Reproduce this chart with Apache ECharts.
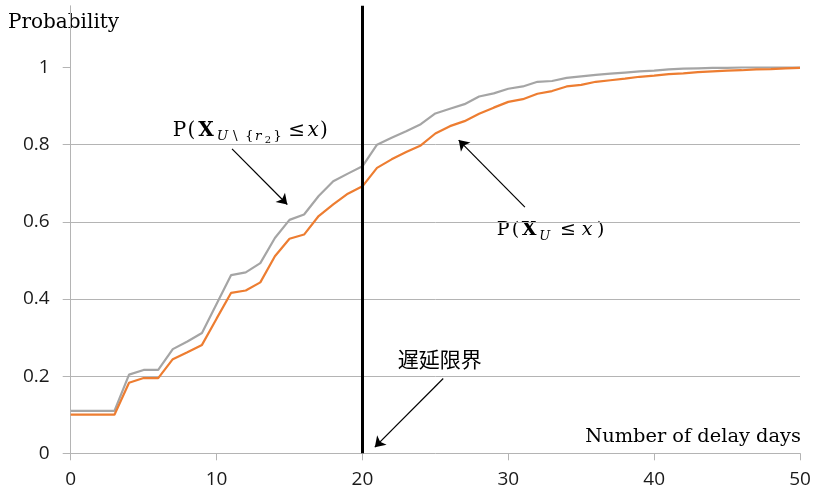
<!DOCTYPE html>
<html><head><meta charset="utf-8">
<script src="https://cdn.jsdelivr.net/npm/echarts@6/dist/echarts.min.js"></script>
<style>html,body{margin:0;padding:0;background:#fff}#c{width:815px;height:497px}</style>
</head><body><div id="c"></div>
<script>
// ---- data ----
const days = [0,1,2,3,4,5,6,7,8,9,10,11,12,13,14,15,16,17,18,19,20,21,22,23,24,25,26,27,28,29,30,31,32,33,34,35,36,37,38,39,40,41,42,43,44,45,46,47,48,49,50];
const probWithoutR2 = [0.11,0.11,0.11,0.11,0.204,0.216,0.216,0.27,0.29,0.312,0.387,0.462,0.469,0.493,0.558,0.605,0.619,0.667,0.705,0.725,0.744,0.80,0.818,0.835,0.853,0.881,0.893,0.905,0.925,0.933,0.945,0.951,0.963,0.965,0.973,0.977,0.981,0.984,0.987,0.99,0.992,0.995,0.997,0.998,0.999,0.999,1,1,1,1,1];
const probAll = [0.10,0.10,0.10,0.10,0.183,0.195,0.195,0.244,0.262,0.281,0.349,0.416,0.422,0.443,0.511,0.556,0.567,0.615,0.645,0.673,0.692,0.74,0.762,0.781,0.798,0.829,0.848,0.861,0.88,0.896,0.911,0.918,0.932,0.939,0.951,0.955,0.963,0.967,0.971,0.976,0.979,0.983,0.985,0.988,0.99,0.992,0.993,0.995,0.996,0.998,0.999];
const delayLimit = 20;
const xTickValues = [0,10,20,30,40,50];
const yTickValues = [0,0.2,0.4,0.6,0.8,1];
const xAxisTitle = 'Number of delay days';
const yAxisTitle = 'Probability';
const limitLabel = '遅延限界';
// annotation arrows (data space): [from, to]
const arrowWithoutR2 = [[11.06,0.789],[14.85,0.645]];
const arrowAll = [[31.14,0.638],[26.6,0.812]];
const arrowLimit = [[25.54,0.194],[20.85,0.016]];

// ---- chart ----
const chart = echarts.init(document.getElementById('c'), null, {renderer:'canvas'});
const SERIF = '"DejaVu Serif", "Liberation Serif", serif';
const GRID = '#b4b4b4';

function piece(text, x, baseline, size, opts) {
  opts = opts || {};
  return {
    type:'text', x:x, y: baseline - 0.346*size, silent:true,
    style:{ text:text, fontSize:size, fontFamily: opts.family || SERIF,
      fontWeight: opts.bold ? 'bold' : 'normal', fontStyle: opts.italic ? 'italic' : 'normal',
      fill:'#000', align: opts.align || 'left', verticalAlign:'middle' }
  };
}

const b1 = 137.3, b2 = 236.7;
const graphics = [
  piece(yAxisTitle, 8, 30, 20),
  piece(xAxisTitle, 801, 443.3, 19.4, {align:'right'}),
  // P(X_{U\{r2}} <= x)
  piece('P', 172.7, b1, 20),
  piece('(', 187.5, b1, 20),
  piece('X', 198.3, b1, 20, {bold:true}),
  piece('U', 216.7, b1+3.8, 13.5, {italic:true}),
  piece('\\', 233, b1+3.8, 13.5),
  piece('{', 245, b1+3.8, 13.5),
  piece('r', 255, b1+3.8, 13.5, {italic:true}),
  piece('2', 264.8, b1+6.5, 10),
  piece('}', 273.3, b1+3.8, 13.5),
  piece('≤', 288.3, b1, 20),
  piece('x', 307.5, b1, 20, {italic:true}),
  piece(')', 320, b1, 20),
  // P(X_U <= x)
  piece('P', 496.7, b2, 19),
  piece('(', 511.7, b2, 19),
  piece('X', 521.7, b2, 19, {bold:true}),
  piece('U', 539.3, b2+4, 13, {italic:true}),
  piece('≤', 560, b2, 19),
  piece('x', 581.7, b2, 19, {italic:true}),
  piece(')', 597, b2, 19),
  {type:'text', x:397.7, y:359, silent:true, style:{text:limitLabel, fontSize:21, fontFamily:'"Noto Sans CJK JP", sans-serif', fill:'#000', align:'left', verticalAlign:'middle'}}
];

function arrow(a) {
  return [{coord:a[0]}, {coord:a[1]}];
}

chart.setOption({
  animation:false,
  backgroundColor:'#fff',
  grid:{left:70.7, right:15, top:5.8, bottom:43.7, containLabel:false, outerBoundsMode:'none'},
  xAxis:{
    type:'value', min:0, max:50, interval:10,
    axisLine:{show:true, lineStyle:{color:GRID, width:1}},
    axisTick:{show:true, length:7, lineStyle:{color:GRID}, customValues:xTickValues},
    axisLabel:{color:'#1a1a1a', fontSize:19, fontFamily:'"Open Sans", sans-serif', margin:17, customValues:xTickValues},
    splitLine:{show:false}
  },
  yAxis:{
    type:'value', min:0, max:1.16, interval:0.2,
    axisLine:{show:true, lineStyle:{color:GRID, width:1}},
    axisTick:{show:true, length:8, lineStyle:{color:GRID}, customValues:yTickValues},
    axisLabel:{color:'#1a1a1a', fontSize:19, fontFamily:'"Open Sans", sans-serif', margin:21, customValues:yTickValues},
    splitLine:{show:true, showMaxLine:false, showMinLine:false, lineStyle:{color:GRID, width:1}}
  },
  series:[
    {name:'P(X_{U\\{r2}} <= x)', type:'line', symbol:'none', silent:true,
     data: days.map((d,i)=>[d, probWithoutR2[i]]),
     lineStyle:{color:'#a5a5a5', width:2.2},
     markLine:{
       silent:true, animation:false, symbol:['none','none'],
       label:{show:false}, emphasis:{disabled:true},
       lineStyle:{color:'#000', width:3, type:'solid'},
       data:[{xAxis:delayLimit}]
     }},
    {name:'P(X_U <= x)', type:'line', symbol:'none', silent:true,
     data: days.map((d,i)=>[d, probAll[i]]),
     lineStyle:{color:'#ed7d31', width:2.2},
     markLine:{
       silent:true, animation:false, symbol:['none','arrow'], symbolSize:10,
       label:{show:false}, emphasis:{disabled:true},
       lineStyle:{color:'#000', width:1.2, type:'solid'},
       data:[
         arrow(arrowWithoutR2),
         arrow(arrowAll),
         arrow(arrowLimit)
       ]
     }}
  ],
  graphic: graphics
});
</script></body></html>
